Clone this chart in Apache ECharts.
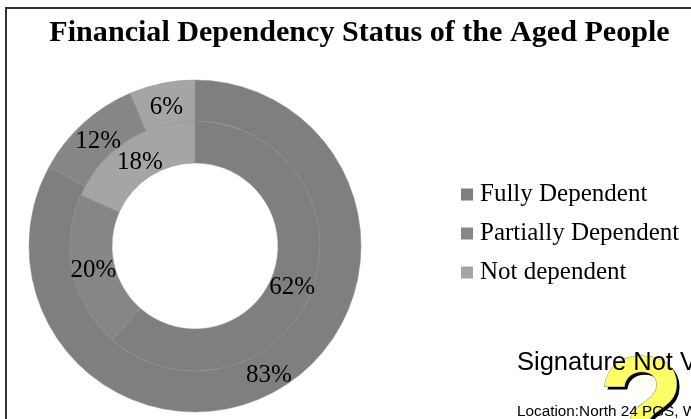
<!DOCTYPE html>
<html>
<head>
<meta charset="utf-8">
<script src="https://cdn.jsdelivr.net/npm/echarts@6/dist/echarts.min.js"></script>
<style>
  html, body { margin: 0; padding: 0; background: #fff; }
  #main { width: 691px; height: 419px; overflow: hidden; }
</style>
</head>
<body>
<div id="main"></div>
<script>
const categories = ['Fully Dependent', 'Partially Dependent', 'Not dependent'];
// slice sizes, printed labels kept separately
const innerValues = [61.5, 20.2, 18.3];
const outerValues = [82.9, 10.7, 6.4];
const innerLabels = ['62%', '20%', '18%'];
const outerLabels = ['83%', '12%', '6%'];
const colors = ['#7f7f7f', '#868686', '#a5a5a5'];

const serif = '"Liberation Serif", serif';
const sans = '"Liberation Sans", sans-serif';

// labels sit a little off the middle of their slice
const innerNudge = [[-3, 4], [3, 2], [3, 6]];
const outerNudge = [[-2, 2], [3, 5], [1, 7]];

function buildData(values, labels, nudge) {
  return values.map((v, i) => ({
    name: categories[i],
    value: v,
    label: { formatter: labels[i], offset: nudge[i] },
    itemStyle: { color: colors[i] },
  }));
}

function ring(radius, values, labels, nudge) {
  return {
    type: 'pie',
    center: [195, 246],
    radius: radius,
    startAngle: 90,
    clockwise: true,
    silent: true,
    animation: false,
    avoidLabelOverlap: false,
    data: buildData(values, labels, nudge),
    itemStyle: { borderColor: '#8c8c8c', borderWidth: 0.5 },
    label: {
      show: true,
      position: 'inside',
      fontFamily: serif,
      fontSize: 25,
      color: '#000',
    },
    labelLayout: { hideOverlap: false },
    labelLine: { show: false },
  };
}

const chart = echarts.init(document.getElementById('main'));
chart.setOption({
  animation: false,
  title: {
    text: 'Financial Dependency Status of the Aged People',
    left: 354.5,
    top: 13,
    textAlign: 'center',
    textStyle: { fontFamily: serif, fontWeight: 'bold', fontSize: 30.1, color: '#000' },
  },
  legend: {
    orient: 'vertical',
    left: 461,
    top: 182,
    padding: 0,
    itemWidth: 12,
    itemHeight: 12,
    itemGap: 14,
    icon: 'rect',
    data: categories,
    itemStyle: { borderWidth: 0 },
    textStyle: { fontFamily: serif, fontSize: 25, color: '#000', padding: [0, 0, 0, 2] },
  },
  series: [
    ring([83, 125], innerValues, innerLabels, innerNudge),
    ring([125, 166], outerValues, outerLabels, outerNudge),
  ],
  graphic: [
    // frame of the slide
    { type: 'line', shape: { x1: 6, y1: 8, x2: 6, y2: 419 }, style: { stroke: '#333', lineWidth: 2 } },
    { type: 'line', shape: { x1: 5, y1: 8, x2: 691, y2: 8 }, style: { stroke: '#333', lineWidth: 2 } },
    // signature stamp
    {
      type: 'text', x: 601, y: 349, z: 10,
      style: { text: '?', fontFamily: sans, fontWeight: 'bold', fontSize: 142, fill: '#000' },
    },
    {
      type: 'text', x: 598, y: 346, z: 11,
      style: { text: '?', fontFamily: sans, fontWeight: 'bold', fontSize: 142, fill: '#ffff66', stroke: '#888', lineWidth: 1 },
    },
    {
      type: 'text', x: 517, y: 350, z: 12,
      style: { text: 'Signature Not Verified', fontFamily: sans, fontSize: 25.5, fill: '#000' },
    },
    {
      type: 'text', x: 517, y: 404, z: 12,
      style: { text: 'Location:North 24 PGS, West Bengal', fontFamily: sans, fontSize: 15.3, fill: '#000' },
    },
  ],
});
</script>
</body>
</html>
